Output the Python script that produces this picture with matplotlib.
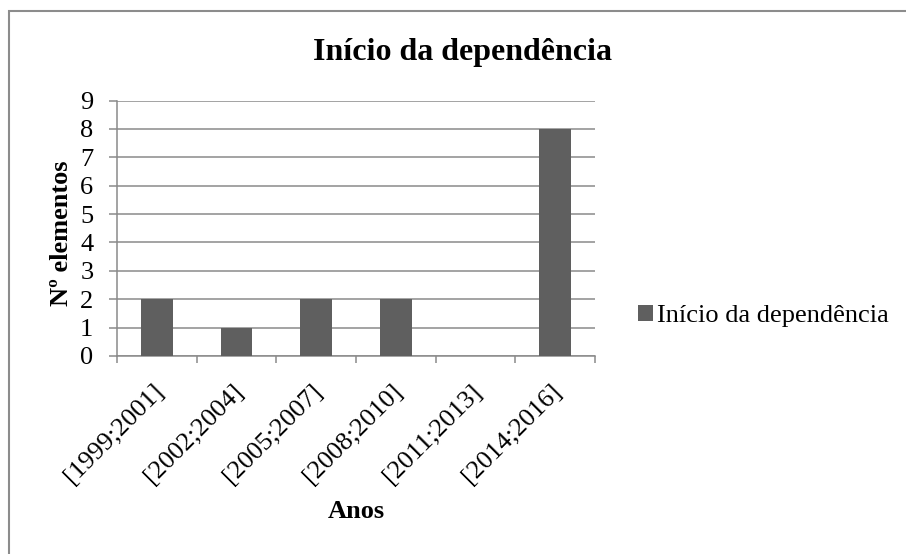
import numpy as np
import matplotlib
matplotlib.use("Agg")
import matplotlib.pyplot as plt
import matplotlib.transforms as mtransforms
from matplotlib.patches import Rectangle

# data
categories = ["[1999;2001]", "[2002;2004]", "[2005;2007]",
              "[2008;2010]", "[2011;2013]", "[2014;2016]"]
counts = [2, 1, 2, 2, 0, 8]
yticks = list(range(0, 10))

title = "Início da dependência"
series_name = "Início da dependência"
xlabel = "Anos"
ylabel = "Nº elementos"

plt.rcParams["font.family"] = ["Liberation Serif", "DejaVu Serif"]

bar_color = "#5f5f5f"
line_color = "#8a8a8a"
fs = 19

W, H = 906, 554
fig = plt.figure(figsize=(W / 100, H / 100), dpi=100)
ax = fig.add_axes([117 / W, 1 - 356 / H, (595 - 117) / W, (356 - 100.5) / H])

x = np.arange(len(categories))
bars = ax.bar(x, counts, width=0.4, color=bar_color, zorder=3, label=series_name)

ax.set_xlim(-0.5, len(categories) - 0.5)
ax.set_ylim(0, 9)
ax.set_yticks(yticks)
ax.yaxis.grid(True, color=line_color, linewidth=1.1, zorder=0)

for side in ["top", "right"]:
    ax.spines[side].set_visible(False)
for side in ["left", "bottom"]:
    ax.spines[side].set_color(line_color)
    ax.spines[side].set_linewidth(1.1)

ax.tick_params(axis="y", direction="out", length=6, width=1.1, color=line_color,
               pad=11, labelsize=fs)

# x: labels at centres, tick marks at category boundaries
ax.set_xticks(x)
ax.set_xticklabels(categories, rotation=45, ha="right", va="center",
                   rotation_mode="anchor", fontsize=fs)
ax.tick_params(axis="x", which="major", length=0, pad=23)
ax.set_xticks(np.arange(-0.5, len(categories)), minor=True)
ax.tick_params(axis="x", which="minor", direction="out", length=5, width=1.1,
               color=line_color)
offset = mtransforms.ScaledTranslation(3 / 100, 0, fig.dpi_scale_trans)
for lab in ax.get_xticklabels():
    lab.set_transform(lab.get_transform() + offset)

ax.set_xlabel(xlabel, fontsize=fs, fontweight="bold", va="center")
ax.xaxis.set_label_coords(0.5, (356 - 511) / (356 - 100.5))
ax.set_ylabel(ylabel, fontsize=fs, fontweight="bold", va="center")
ax.yaxis.set_label_coords((62 - 117) / (595 - 117), (356 - 233) / (356 - 100.5))

fig.text(462 / W, 1 - 60 / H, title, ha="center", va="baseline",
         fontsize=23, fontweight="bold")

fig.legend(handles=[bars], labels=[series_name], loc="center left",
           bbox_to_anchor=(627 / W, 1 - 316 / H), frameon=False, fontsize=fs,
           handlelength=0.57, handleheight=0.57, handletextpad=0.15,
           borderaxespad=0)

# outer chart frame (right and bottom edges fall outside the picture)
fig.patches.append(Rectangle((8.5 / W, -0.1), 2, 1.1 - 10.5 / H,
                             transform=fig.transFigure, fill=False,
                             edgecolor="#8c8c8c", linewidth=1.5))

fig.savefig("out.png", dpi=100)
